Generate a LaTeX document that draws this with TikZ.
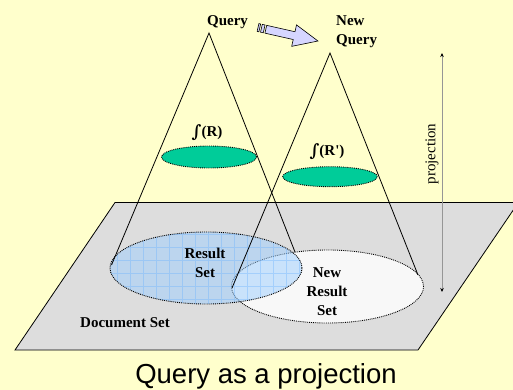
\documentclass[tikz,border=0pt]{standalone}
\usepackage{fontspec}
\setmainfont{Liberation Serif}
\newfontfamily\capfont{Liberation Sans}
\newfontfamily\intfont{DejaVu Serif}
\usetikzlibrary{arrows.meta}
\definecolor{bgY}{RGB}{255,255,204}
\definecolor{plane}{RGB}{221,221,221}
\definecolor{rsblue}{RGB}{156,206,255}
\definecolor{gridblue}{RGB}{110,180,255}
\definecolor{greenset}{RGB}{0,204,153}
\definecolor{arrowfill}{RGB}{214,214,255}
\definecolor{projgray}{RGB}{150,150,150}
\definecolor{nrwhite}{RGB}{248,248,248}
\newcommand{\bigint}{\raisebox{-1pt}{\intfont\bfseries\fontsize{17}{17}\selectfont ∫}}
\begin{document}
\begin{tikzpicture}[x=1pt,y=-1pt,
  lbl/.style={font=\bfseries\fontsize{15}{19}\selectfont, inner sep=0pt, align=center},
  cone/.style={draw=black, line width=0.8pt},
  rim/.style={draw=black, densely dotted, line width=0.9pt},
  blockarrow/.style={fill=arrowfill, draw=black, line width=0.6pt}]
\useasboundingbox (0,0) rectangle (513,390);
\clip (0,0) rectangle (513,390);
\fill[bgY] (0,0) rectangle (513,390);
% document plane
\filldraw[fill=plane, draw=black, line width=0.8pt] (115,202.5) -- (518.4,202.5) -- (418,350) -- (15,350) -- cycle;
% new result set
\filldraw[fill=nrwhite, rim] (327.5,286.5) ellipse [x radius=96pt, y radius=36.5pt];
% result set (translucent, gridded)
\begin{scope}
  \clip (206,268) ellipse [x radius=96pt, y radius=36pt];
  \fill[rsblue, opacity=0.5] (100,220) rectangle (310,310);
  \draw[gridblue, opacity=0.4, line width=0.6pt, step=13pt] (100,220) grid (310,310);
\end{scope}
\draw[rim] (206,268) ellipse [x radius=96pt, y radius=36pt];
% projections of queries
\filldraw[fill=greenset, rim] (209,157) ellipse [x radius=47.5pt, y radius=11pt];
\filldraw[fill=greenset, rim] (330,176.7) ellipse [x radius=47.3pt, y radius=10pt];
% cone coordinates
\coordinate (q1) at (209,33);
\coordinate (q2) at (330,53);
\coordinate (r1l) at (111.5,265);
\coordinate (r1r) at (295,252);
\coordinate (r2l) at (232,288);
\coordinate (r2r) at (418,275);
\draw[cone] (r1l) -- (q1) -- (r1r);
\draw[cone] (r2l) -- (q2) -- (r2r);
% projection arrow
\coordinate (pt) at (442,53);
\coordinate (pb) at (442,292);
\draw[projgray, line width=1pt, {Stealth[black,length=4pt,width=3.5pt]}-{Stealth[black,length=4pt,width=3.5pt]}] (pt) -- (pb);
\node[font=\fontsize{15}{18}\selectfont, inner sep=0pt, rotate=90] (proj) at (432,154) {projection};
% block arrow
\begin{scope}[shift={(258,27.5)}, rotate=-12.7]
  \filldraw[blockarrow] (8,-4) -- (37,-4) -- (37,-11) -- (61.5,0) -- (37,11) -- (37,4) -- (8,4) -- cycle;
  \filldraw[blockarrow] (0,-4) rectangle (1.8,4);
  \filldraw[blockarrow] (3.5,-4) rectangle (6.3,4);
\end{scope}
% labels
\node[lbl] (query) at (227.5,22) {Query};
\node[lbl, align=left, anchor=west] (newq) at (336,32) {New\\Query};
\node[lbl] (intr) at (207,133) {\bigint(R)};
\node[lbl] (intrp) at (327,152) {\bigint(R\textquotesingle)};
\node[lbl] (rs) at (205,263) {Result\\Set};
\node[lbl] (nrs) at (327,292) {New\\Result\\Set};
\node[lbl] (ds) at (125,323) {Document Set};
\node[font=\capfont\fontsize{27.5}{33}\selectfont, inner sep=0pt, anchor=base] (cap) at (266,383) {Query as a projection};
\end{tikzpicture}
\end{document}
